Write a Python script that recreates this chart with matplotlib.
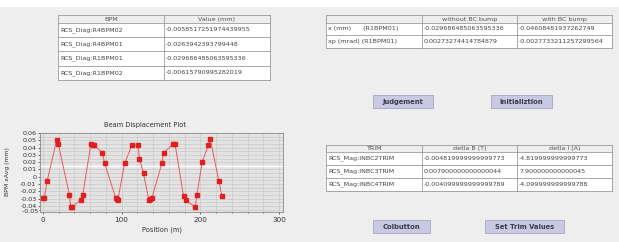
import numpy as np
import matplotlib
matplotlib.use('Agg')
import matplotlib.pyplot as plt
from matplotlib.patches import Rectangle

# BPM readings around the ring (position in m, x in mm)
position = [0, 2, 5.5, 17.8, 19.9, 33.8, 35.5, 37.6, 48.2, 50.8, 61, 63.5, 65.2,
            75.8, 78.4, 92.7, 94, 95.3, 104, 113, 120.7, 122.8, 127.9, 134.6,
            136.3, 138.5, 151.2, 153.3, 165, 168, 178.7, 181.3, 193.6, 195.7,
            202.4, 210.4, 212.6, 223.6, 227.4]
x_avg = [-0.0297, -0.029, -0.00616, 0.051, 0.0445, -0.0249, -0.0417, -0.0417,
         -0.0317, -0.0249, 0.0445, 0.0436, 0.0436, 0.0327, 0.019, -0.0294,
         -0.0308, -0.0317, 0.0183, 0.0432, 0.0432, 0.025, 0.0046, -0.0317,
         -0.0304, -0.0294, 0.0183, 0.0327, 0.0445, 0.0445, -0.0263, -0.0317,
         -0.0417, -0.0249, 0.0204, 0.0441, 0.0518, -0.00585, -0.0264]

bpm_header = ['BPM', 'Value (mm)']
bpm_rows = [['RCS_Diag:R4BPM02', '-0.0058517251974439955'],
            ['RCS_Diag:R4BPM01', '-0.0263942393799448'],
            ['RCS_Diag:R1BPM01', '-0.029686485063595336'],
            ['RCS_Diag:R1BPM02', '-0.00615790995282019']]

bump_header = ['', 'without BC bump', 'with BC bump']
bump_rows = [['x (mm)      (R1BPM01)', '-0.029686485063595336', '-0.04608481937262749'],
             ['xp (mrad) (R1BPM01)', '0.00273274414784879', '-0.0027733211257299564']]

trim_header = ['TRIM', 'detla B (T)', 'detla I (A)']
trim_rows = [['RCS_Mag:INBC2TRIM', '-0.004819999999999773', '-4.819999999999773'],
             ['RCS_Mag:INBC3TRIM', '0.007900000000000044', '7.900000000000045'],
             ['RCS_Mag:INBC4TRIM', '-0.004099999999999789', '-4.099999999999788']]

W, H = 619, 242
FS = 4.6
fig = plt.figure(figsize=(W / 100, H / 100), dpi=100, facecolor='#eeeeee')

ui = fig.add_axes([0, 0, 1, 1])
ui.set_xlim(0, W)
ui.set_ylim(H, 0)
ui.axis('off')
ui.add_patch(Rectangle((0, 0), W, 7, facecolor='white', edgecolor='none'))


def draw_table(ax, xs, y0, header_h, row_h, header, rows):
    # xs: column borders in pixels
    n = len(rows)
    y1 = y0 + header_h + n * row_h
    ax.add_patch(Rectangle((xs[0], y0), xs[-1] - xs[0], header_h,
                           facecolor='#eeeeee', edgecolor='none'))
    ax.add_patch(Rectangle((xs[0], y0 + header_h), xs[-1] - xs[0], n * row_h,
                           facecolor='white', edgecolor='none'))
    for x in xs:
        ax.plot([x, x], [y0, y1], color='#9a9a9a', lw=0.6)
    for i in range(n + 2):
        y = y0 if i == 0 else y0 + header_h + (i - 1) * row_h
        ax.plot([xs[0], xs[-1]], [y, y], color='#9a9a9a', lw=0.6)
    for j, txt in enumerate(header):
        ax.text((xs[j] + xs[j + 1]) / 2, y0 + header_h / 2 + 0.3, txt,
                ha='center', va='center', fontsize=FS, color='#555555')
    for i, row in enumerate(rows):
        yc = y0 + header_h + (i + 0.5) * row_h
        for j, txt in enumerate(row):
            ax.text(xs[j] + 2, yc, txt, ha='left', va='center',
                    fontsize=FS, color='#444444')


def draw_button(ax, x0, y0, x1, y1, label):
    ax.add_patch(Rectangle((x0, y0), x1 - x0, y1 - y0, facecolor='#c9c9e4',
                           edgecolor='#a5a5c0', lw=0.6))
    ax.text((x0 + x1) / 2, (y0 + y1) / 2 + 0.3, label, ha='center', va='center',
            fontsize=4.9, fontweight='bold', color='#3a3a4a')


draw_table(ui, [58, 164, 270], 15, 7.7, 14.3, bpm_header, bpm_rows)
draw_table(ui, [326, 422, 517, 612], 15, 7.7, 12.5, bump_header, bump_rows)
draw_table(ui, [326, 422, 517, 612], 145, 6.7, 13.1, trim_header, trim_rows)

draw_button(ui, 373, 95, 433, 108, 'Judgement')
draw_button(ui, 491, 95, 552, 108, 'Initializtion')
draw_button(ui, 373, 220, 430, 233, 'Colbutton')
draw_button(ui, 485, 220, 564, 233, 'Set Trim Values')

# Beam displacement plot
ax = fig.add_axes([40 / W, (H - 211.7) / H, 243 / W, 79 / H])
ax.set_facecolor('#e3e3e3')
ax.set_xlim(-3.5, 305)
ax.set_ylim(-0.048, 0.0605)
ax.set_xticks([0, 100, 200, 300])
ax.set_xticks(np.arange(0, 301, 20), minor=True)
yt = [-0.04, -0.03, -0.02, -0.01, 0, 0.01, 0.02, 0.03, 0.04, 0.05, 0.06]
ax.set_yticks(yt)
ax.set_yticklabels(['-0.04', '-0.03', '-0.02', '-0.01', '0', '0.01', '0.02',
                    '0.03', '0.04', '0.05', '0.06'])
ax.set_yticks(np.arange(-0.045, 0.061, 0.005), minor=True)
ax.grid(which='both', color='#c9c9c9', lw=0.5)
ax.axhline(0.015, color='white', lw=1.0)
ax.set_axisbelow(True)
ax.tick_params(labelsize=4.6, colors='#333333', length=1.5, width=0.5, pad=1)
ax.tick_params(axis='x', labelsize=5.2, pad=2.5)
ax.tick_params(which='minor', length=1, width=0.4)
for s in ax.spines.values():
    s.set_color('#8a8a8a')
    s.set_linewidth(0.6)
ax.text(-3.5, -0.048, '-0.05 ', transform=ax.transData, ha='right', va='center',
        fontsize=4.6, color='#333333')
ax.plot(position, x_avg, color='#ea5a5a', lw=0.7, marker='s', markersize=2.5,
        markerfacecolor='#e02020', markeredgecolor='#e02020')

fig.text(145 / W, 1 - 125 / H, 'Beam Displacement Plot', ha='center', va='center',
         fontsize=4.8, color='#333333')
fig.text(162 / W, 1 - 230 / H, 'Position (m)', ha='center', va='center',
         fontsize=4.8, color='#333333')
fig.text(8 / W, 1 - 172 / H, 'BPM xAvg (mm)', ha='center', va='center',
         rotation=90, fontsize=4.4, color='#333333')

fig.savefig('out.png', dpi=100, facecolor=fig.get_facecolor())
